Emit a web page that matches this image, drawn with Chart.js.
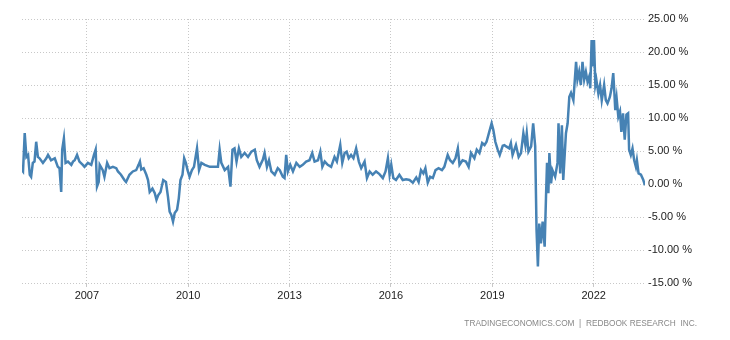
<!DOCTYPE html>
<html>
<head>
<meta charset="utf-8">
<script src="https://cdn.jsdelivr.net/npm/chart.js@4.4.0/dist/chart.umd.min.js"></script>
<style>
  body { margin: 0; background: #fff; }
  #wrap { position: relative; width: 730px; height: 340px; }
  #fuente {
    position: absolute; right: 33px; top: 318px;
    font: 8.3px Arial, "Liberation Sans", sans-serif; color: #888;
    white-space: pre;
  }
</style>
</head>
<body>
<div id="wrap">
  <canvas id="myChart"></canvas>
  <div id="fuente">TRADINGECONOMICS.COM  |  REDBOOK RESEARCH  INC.</div>
</div>
<script>
// fechas (año decimal) y variación interanual (%)
const fechas = [
  2005.08, 2005.11, 2005.16, 2005.21, 2005.26, 2005.31, 2005.35, 2005.40, 2005.45, 2005.50,
  2005.55, 2005.60, 2005.70, 2005.80, 2005.85, 2005.94, 2006.05, 2006.14, 2006.19, 2006.24,
  2006.27, 2006.32, 2006.37, 2006.44, 2006.54, 2006.59, 2006.64, 2006.71, 2006.78, 2006.88,
  2006.93, 2007.03, 2007.13, 2007.21, 2007.26, 2007.30, 2007.35, 2007.38, 2007.47, 2007.52,
  2007.60, 2007.67, 2007.77, 2007.87, 2007.92, 2008.01, 2008.11, 2008.16, 2008.26, 2008.36,
  2008.46, 2008.53, 2008.57, 2008.61, 2008.68, 2008.76, 2008.81, 2008.86, 2008.94, 2009.01,
  2009.06, 2009.11, 2009.18, 2009.26, 2009.34, 2009.40, 2009.45, 2009.50, 2009.55, 2009.60,
  2009.67, 2009.72, 2009.77, 2009.83, 2009.88, 2009.93, 2009.98, 2010.04, 2010.11, 2010.17,
  2010.26, 2010.32, 2010.39, 2010.49, 2010.64, 2010.78, 2010.88, 2010.93, 2010.98, 2011.08,
  2011.18, 2011.25, 2011.31, 2011.37, 2011.43, 2011.50, 2011.57, 2011.67, 2011.77, 2011.87,
  2011.97, 2012.03, 2012.11, 2012.21, 2012.26, 2012.33, 2012.39, 2012.46, 2012.56, 2012.65,
  2012.71, 2012.80, 2012.85, 2012.90, 2012.95, 2013.02, 2013.10, 2013.20, 2013.30, 2013.39,
  2013.49, 2013.59, 2013.67, 2013.74, 2013.84, 2013.91, 2013.97, 2014.04, 2014.13, 2014.23,
  2014.33, 2014.40, 2014.50, 2014.56, 2014.63, 2014.69, 2014.75, 2014.82, 2014.89, 2014.97,
  2015.05, 2015.12, 2015.22, 2015.29, 2015.37, 2015.46, 2015.56, 2015.66, 2015.76, 2015.84,
  2015.91, 2015.96, 2016.01, 2016.07, 2016.15, 2016.25, 2016.35, 2016.45, 2016.55, 2016.65,
  2016.75, 2016.82, 2016.89, 2016.96, 2017.02, 2017.09, 2017.16, 2017.24, 2017.32, 2017.41,
  2017.51, 2017.58, 2017.68, 2017.75, 2017.83, 2017.91, 2017.98, 2018.03, 2018.12, 2018.22,
  2018.30, 2018.37, 2018.47, 2018.54, 2018.62, 2018.70, 2018.77, 2018.83, 2018.91, 2018.98,
  2019.03, 2019.09, 2019.16, 2019.22, 2019.31, 2019.36, 2019.41, 2019.50, 2019.55, 2019.60,
  2019.70, 2019.78, 2019.85, 2019.92, 2019.98, 2020.02, 2020.07, 2020.15, 2020.21, 2020.27,
  2020.31, 2020.35, 2020.39, 2020.44, 2020.49, 2020.55, 2020.59, 2020.62, 2020.66, 2020.69,
  2020.74, 2020.78, 2020.86, 2020.93, 2020.96, 2021.01, 2021.06, 2021.10, 2021.18, 2021.23,
  2021.28, 2021.33, 2021.40, 2021.48, 2021.52, 2021.57, 2021.62, 2021.67, 2021.72, 2021.77,
  2021.82, 2021.87, 2021.90, 2021.94, 2021.97, 2022.01, 2022.05, 2022.08, 2022.14, 2022.19,
  2022.24, 2022.31, 2022.36, 2022.41, 2022.48, 2022.53, 2022.58, 2022.61, 2022.64, 2022.68,
  2022.73, 2022.78, 2022.82, 2022.87, 2022.92, 2022.97, 2023.02, 2023.05, 2023.10, 2023.15,
  2023.20, 2023.25, 2023.28, 2023.33, 2023.40, 2023.47, 2023.52
];

const valores = [
  2.1, 1.9, 7.7, 4.1, 4.4, 1.4, 1.1, 3.2, 3.4, 6.4,
  4.1, 3.9, 3.2, 3.9, 4.4, 3.6, 3.9, 2.6, 2.4, -1.2,
  5.2, 6.9, 3.2, 3.4, 2.9, 3.4, 3.6, 4.4, 3.4, 2.9,
  2.6, 3.2, 2.9, 4.4, 5.2, -0.4, 0.3, 2.9, 2.1, 1.1,
  3.2, 2.4, 2.6, 2.4, 1.9, 1.4, 0.6, 0.3, 1.4, 1.9,
  2.1, 2.9, 3.4, 2.2, 2.4, 1.4, 0.6, -1.2, -0.7, -1.4,
  -2.4, -1.7, -1.2, 0.6, 0.3, -1.9, -4.2, -4.7, -5.7, -4.4,
  -3.9, -2.2, 0.6, 1.4, 3.9, 3.2, 2.1, 1.1, 2.1, 2.6,
  5.4, 2.1, 3.2, 2.9, 2.6, 2.6, 2.6, 5.2, 3.2, 2.1,
  2.6, -0.4, 5.2, 5.4, 3.4, 5.4, 4.1, 4.7, 4.1, 4.9,
  5.2, 3.6, 2.6, 3.7, 4.7, 2.6, 3.6, 1.9, 1.4, 2.4,
  2.1, 1.1, 0.9, 4.4, 1.9, 2.9, 1.9, 3.2, 2.6, 2.9,
  3.4, 3.6, 4.7, 3.4, 3.6, 4.9, 2.6, 3.4, 2.9, 2.6,
  4.1, 3.4, 5.9, 3.2, 4.7, 4.9, 3.9, 4.4, 3.9, 5.4,
  3.4, 2.4, 3.4, 0.9, 1.9, 1.4, 1.9, 1.5, 0.9, 1.9,
  3.9, 1.4, 2.9, 0.9, 0.6, 1.4, 0.6, 0.7, 0.6, 0.2,
  1.0, 0.3, 2.1, 1.6, 2.4, 0.2, 1.1, 0.9, 2.1, 2.4,
  2.1, 2.6, 4.4, 3.6, 3.2, 3.9, 5.4, 2.9, 3.6, 3.4,
  2.6, 4.7, 3.9, 5.2, 4.7, 6.2, 5.9, 6.4, 7.9, 9.2,
  8.2, 6.4, 5.2, 4.4, 5.8, 5.9, 5.7, 5.4, 6.2, 4.4,
  5.9, 4.1, 4.7, 7.7, 5.9, 7.7, 4.9, 5.7, 9.2, 5.7,
  -7.0, -12.5, -6.0, -9.0, -5.7, -9.5, -1.9, 3.2, -1.4, 4.7,
  0.1, 2.1, 1.1, 3.2, 9.2, 1.6, 8.9, 0.6, 7.7, 9.2,
  13.2, 13.8, 12.7, 18.5, 15.8, 17.0, 15.0, 18.5, 15.8, 17.0,
  15.5, 16.3, 14.5, 21.8, 17.8, 21.8, 15.0, 15.8, 13.7, 15.0,
  12.7, 15.0, 12.7, 12.2, 13.2, 14.5, 16.8, 14.2, 11.2, 13.0,
  10.2, 11.0, 7.9, 10.7, 6.7, 10.5, 10.7, 5.2, 4.4, 5.4,
  3.6, 2.6, 3.6, 1.6, 1.4, 0.6, -0.2
];

const etiquetasX = [2007, 2010, 2013, 2016, 2019, 2022];
const etiquetasY = [-15, -10, -5, 0, 5, 10, 15, 20, 25];

const puntos = fechas.map((f, i) => ({ x: f, y: valores[i] }));
const fuenteEjes = { family: 'Arial, "Liberation Sans", sans-serif', size: 11 };

const ctx = document.getElementById('myChart').getContext('2d');
const myChart = new Chart(ctx, {
    type: 'line',
    data: {
        datasets: [{
            data: puntos,
            borderColor: '#4682b4',
            borderWidth: 2.5,
            pointRadius: 0,
            tension: 0,
            fill: false
        }]
    },
    options: {
        responsive: true,
        maintainAspectRatio: false,
        animation: false,
        layout: { padding: { top: 19, left: 22, right: 0, bottom: 0 } },
        plugins: {
            legend: { display: false },
            tooltip: { enabled: false }
        },
        scales: {
            x: {
                type: 'linear',
                min: fechas[0],
                max: fechas[fechas.length - 1],
                afterBuildTicks: s => { s.ticks = etiquetasX.map(v => ({ value: v })); },
                afterFit: s => { s.height = 57; },
                grid: { color: '#c8c8c8', tickLength: 4, tickColor: '#c8c8c8' },
                border: { display: false, dash: [1, 2] },
                ticks: {
                    padding: 2,
                    maxRotation: 0,
                    color: '#222',
                    font: fuenteEjes,
                    callback: v => String(v)
                }
            },
            y: {
                position: 'right',
                min: -15,
                max: 25,
                afterBuildTicks: s => { s.ticks = etiquetasY.map(v => ({ value: v })); },
                afterFit: s => { s.width = 85; },
                grid: { color: '#c8c8c8', drawTicks: false },
                border: { display: false, dash: [1, 2] },
                ticks: {
                    padding: 3,
                    color: '#222',
                    font: fuenteEjes,
                    callback: v => v.toFixed(2) + ' %'
                }
            }
        }
    }
});
</script>
</body>
</html>
